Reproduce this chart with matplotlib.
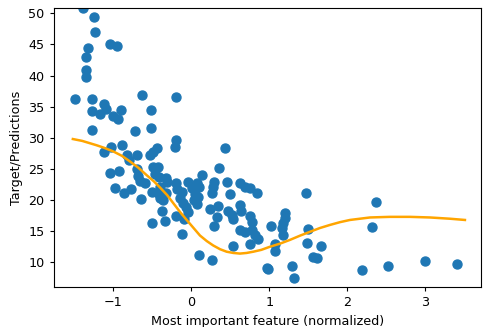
import numpy as np
import matplotlib
matplotlib.use('Agg')
import matplotlib.pyplot as plt

plt.rcParams['font.family'] = ['DejaVu Sans']
plt.rcParams['font.size'] = 9.2

# scatter points: normalized feature vs target
feat_x = [-1.386, -1.249, -1.232, -1.047, -0.950, -1.330, -1.348, -1.348, -1.348, -1.497,
          -1.279, -0.637, -0.196, -1.121, -1.099, -1.279, -1.176, -1.005, -0.937, -0.902,
          -0.521, -0.521, -0.716, -1.279, -0.196, -0.209, -0.440, 0.433, -0.886, -1.035,
          -1.118, -0.825, -0.701, -0.802, -0.526, -0.485, -1.047, -0.928, -0.982, -0.861,
          -0.772, -0.639, -0.701, -0.680, -0.659, -0.588, -0.488, -0.430, -0.466, -0.415,
          -0.321, -0.508, -0.421, -0.402, -0.402, -0.357, -0.325, -0.380, -0.508, -0.338,
          -0.193, -0.187, -0.123, -0.145, -0.103, -0.071, -0.042, -0.193, -0.094, -0.123,
          -0.039, 0.005, 0.047, 0.073, 0.090, 0.080, 0.103, 0.141, 0.035, -0.312,
          0.240, 0.291, 0.285, 0.272, 0.356, 0.347, 0.326, 0.298, 0.454, 0.497,
          0.475, 0.519, 0.535, 0.625, 0.689, 0.754, 0.625, 0.644, 0.754, 0.783,
          0.625, 0.689, 0.775, 0.818, 0.860, 0.760, 0.542, 0.840, 0.103, 0.266,
          0.968, 1.472, 1.023, 1.203, 1.203, 1.181, 1.160, 1.181, 1.074, 1.074,
          1.502, 1.481, 1.665, 1.566, 1.610, 0.988, 1.289, 1.322, 2.187, 2.324,
          2.365, 2.529, 3.000, 3.415]
target_y = [50.80, 49.41, 47.00, 45.12, 44.70, 44.38, 42.98, 40.84, 39.77, 36.18,
            36.18, 36.88, 36.60, 35.48, 34.58, 34.31, 33.78, 33.58, 32.94, 34.42,
            34.39, 31.65, 31.09, 31.30, 29.65, 28.57, 28.28, 28.28, 28.84, 28.57,
            27.77, 27.24, 27.24, 26.43, 27.24, 27.77, 24.30, 24.59, 21.94, 21.08,
            21.74, 20.14, 24.99, 23.86, 23.06, 22.69, 25.36, 25.23, 24.18, 23.75,
            23.49, 21.34, 21.08, 22.14, 20.28, 19.93, 21.08, 18.19, 16.39, 16.59,
            22.69, 21.78, 21.29, 20.28, 19.48, 18.88, 18.13, 17.39, 16.96, 14.55,
            22.82, 21.89, 21.05, 19.37, 20.54, 22.74, 22.14, 24.02, 19.93, 22.90,
            18.51, 22.95, 22.02, 21.13, 25.10, 19.04, 17.20, 15.83, 22.95, 20.97,
            18.19, 17.52, 16.96, 22.79, 22.10, 21.89, 19.25, 18.16, 17.44, 16.52,
            15.19, 14.79, 15.19, 14.39, 13.69, 12.94, 12.62, 21.13, 11.17, 10.37,
            9.04, 21.18, 15.88, 17.87, 17.07, 16.27, 15.46, 14.39, 12.94, 11.86,
            15.35, 13.05, 12.62, 10.90, 10.64, 8.92, 9.41, 7.53, 8.76, 15.72,
            19.64, 9.33, 10.21, 9.78]

# prediction curve
line_x = [-1.52, -1.40, -1.215, -1.12, -1.00, -0.89, -0.787, -0.68, -0.573, -0.48,
          -0.40, -0.31, -0.231, -0.145, -0.059, 0.03, 0.112, 0.20, 0.282, 0.37,
          0.454, 0.54, 0.625, 0.71, 0.796, 0.90, 1.01, 1.14, 1.267, 1.40,
          1.524, 1.65, 1.78, 1.91, 2.037, 2.294, 2.55, 2.807, 3.064, 3.32, 3.513]
line_y = [29.8, 29.5, 28.8, 28.4, 27.8, 27.1, 26.2, 25.2, 24.0, 23.0,
          22.0, 20.8, 19.5, 18.1, 16.8, 15.5, 14.3, 13.4, 12.7, 12.1,
          11.7, 11.5, 11.4, 11.5, 11.7, 12.0, 12.5, 13.0, 13.6, 14.3,
          14.9, 15.5, 16.0, 16.45, 16.8, 17.2, 17.3, 17.3, 17.2, 17.0, 16.8]

fig = plt.figure(figsize=(4.83, 3.27), dpi=100)
ax = fig.add_axes([0.1118, 0.1223, 0.885, 0.8542])
ax.scatter(feat_x, target_y, s=42, color='#1f77b4', zorder=2)
ax.plot(line_x, line_y, color='orange', linewidth=1.8, zorder=3)

ax.set_xlim(-1.762, 3.725)
ax.set_ylim(6.03, 50.9)
ax.set_xticks([-1, 0, 1, 2, 3])
ax.set_yticks([10, 15, 20, 25, 30, 35, 40, 45, 50])
ax.tick_params(length=3.2)
ax.set_xlabel('Most important feature (normalized)')
ax.set_ylabel('Target/Predictions')

fig.savefig('out.png', dpi=100)
